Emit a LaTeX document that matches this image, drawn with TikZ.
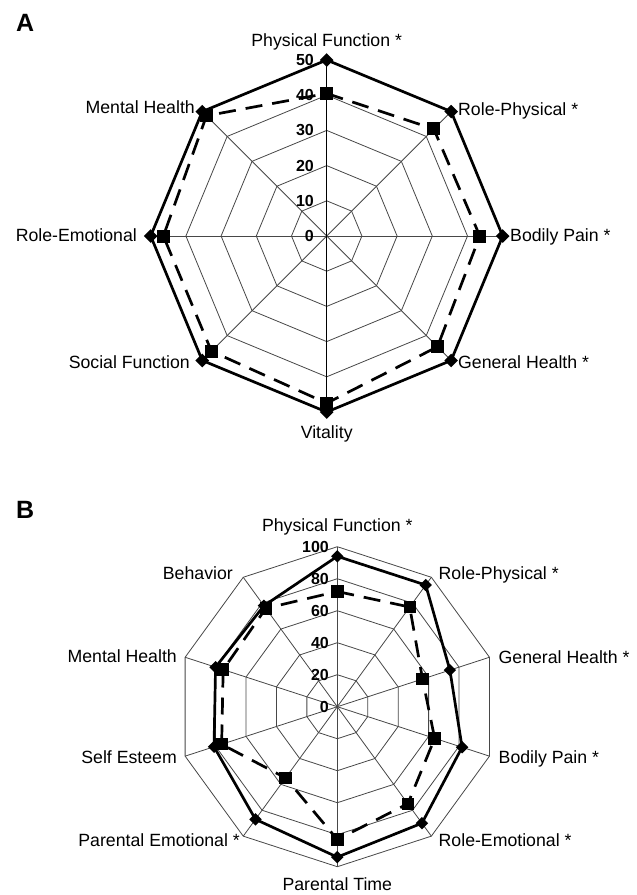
\documentclass[tikz,border=0pt]{standalone}
\usepackage{fontspec}
\setmainfont{Liberation Sans}
\begin{document}
\begin{tikzpicture}[x=1pt,y=-1pt,
  gridline/.style={draw=black!72, line width=0.8pt},
  spoke/.style={draw=black!72, line width=0.8pt},
  solidser/.style={draw=black, line width=2.7pt, line join=round},
  dashser/.style={draw=black, line width=2.7pt, dash pattern=on 17pt off 10pt},
  lab/.style={font=\fontsize{17.7}{20}\selectfont, inner sep=0pt},
  ticklab/.style={font=\bfseries\fontsize{16}{18}\selectfont, inner sep=0pt, anchor=east},
  panel/.style={font=\bfseries\fontsize{25}{28}\selectfont, inner sep=0pt, anchor=base west}]
\useasboundingbox (0,0) rectangle (637,895);
\def\cxA{326.7}\def\cyA{236}\def\sA{3.52}
\def\cxB{337.3}\def\cyB{706.7}\def\sB{1.6}
% ---------------- Panel A ----------------
\node[panel] (pA) at (16,31.7) {A};
\coordinate (cA) at (\cxA,\cyA);
\foreach \r in {10,20,30,40,50}{
  \draw[gridline] ({\cxA},{\cyA-\sA*\r}) \foreach \k in {1,...,7}{ -- ({\cxA+\sA*\r*sin(45*\k)},{\cyA-\sA*\r*cos(45*\k)}) } -- cycle;
}
\foreach \k in {0,...,7}{
  \coordinate (Aax\k) at ({\cxA+\sA*50*sin(45*\k)},{\cyA-\sA*50*cos(45*\k)});
}
\foreach \k in {1,2,3,5,6,7}{ \draw[spoke] (cA) -- (Aax\k); }
\draw[draw=black, line width=0.9pt] (Aax0) -- (Aax4);
\foreach \v [count=\k from 0] in {50,50,50,50,50,50,50,50}{
  \coordinate (As\k) at ({\cxA+\sA*\v*sin(45*\k)},{\cyA-\sA*\v*cos(45*\k)});
}
\foreach \v [count=\k from 0] in {40.5,43,43.5,44.5,47.5,46.3,46.4,48.3}{
  \coordinate (Ad\k) at ({\cxA+\sA*\v*sin(45*\k)},{\cyA-\sA*\v*cos(45*\k)});
}
\draw[solidser] (As0) -- (As1) -- (As2) -- (As3) -- (As4) -- (As5) -- (As6) -- (As7) -- cycle;
\draw[dashser] (Ad0) -- (Ad1) -- (Ad2) -- (Ad3) -- (Ad4) -- (Ad5) -- (Ad6) -- (Ad7) -- cycle;
\foreach \k in {0,...,7}{
  \fill[shift={(As\k)}] (0,-6.8) -- (6.8,0) -- (0,6.8) -- (-6.8,0) -- cycle;
}
\foreach \k in {0,...,7}{
  \fill[shift={(Ad\k)}] (-6.5,-6.5) rectangle (6.5,6.5);
}
\foreach \t in {0,10,20,30,40,50}{
  \node[ticklab] (At\t) at (314,{\cyA-\sA*\t}) {\t};
}
\node[lab, anchor=base] (A0) at (326.7,46) {Physical Function *};
\node[lab, anchor=base west] (A1) at (458,115) {Role-Physical *};
\node[lab, anchor=base west] (A2) at (510,241.5) {Bodily Pain *};
\node[lab, anchor=base west] (A3) at (458,368) {General Health *};
\node[lab, anchor=base] (A4) at (326.7,438) {Vitality};
\node[lab, anchor=base east] (A5) at (190,368) {Social Function};
\node[lab, anchor=base east] (A6) at (137,241.5) {Role-Emotional};
\node[lab, anchor=base east] (A7) at (195,113.5) {Mental Health};
% ---------------- Panel B ----------------
\node[panel] (pB) at (16,518) {B};
\coordinate (cB) at (\cxB,\cyB);
\foreach \r in {20,40,60,80,100}{
  \draw[gridline] ({\cxB},{\cyB-\sB*\r}) \foreach \k in {1,...,9}{ -- ({\cxB+\sB*\r*sin(36*\k)},{\cyB-\sB*\r*cos(36*\k)}) } -- cycle;
}
\foreach \k in {0,...,9}{
  \coordinate (Bax\k) at ({\cxB+\sB*100*sin(36*\k)},{\cyB-\sB*100*cos(36*\k)});
  \draw[spoke] (cB) -- (Bax\k);
}
\foreach \v [count=\k from 0] in {94,94,74,82,90,94,87,81,80,78}{
  \coordinate (Bs\k) at ({\cxB+\sB*\v*sin(36*\k)},{\cyB-\sB*\v*cos(36*\k)});
}
\foreach \v [count=\k from 0] in {72,77,56,64,75,83,55,76,75,76}{
  \coordinate (Bd\k) at ({\cxB+\sB*\v*sin(36*\k)},{\cyB-\sB*\v*cos(36*\k)});
}
\draw[solidser] (Bs0) -- (Bs1) -- (Bs2) -- (Bs3) -- (Bs4) -- (Bs5) -- (Bs6) -- (Bs7) -- (Bs8) -- (Bs9) -- cycle;
\draw[dashser] (Bd0) -- (Bd1) -- (Bd2) -- (Bd3) -- (Bd4) -- (Bd5) -- (Bd6) -- (Bd7) -- (Bd8) -- (Bd9) -- cycle;
\foreach \k in {0,...,9}{
  \fill[shift={(Bs\k)}] (0,-6.2) -- (6.2,0) -- (0,6.2) -- (-6.2,0) -- cycle;
}
\foreach \k in {0,...,9}{
  \fill[shift={(Bd\k)}] (-6.2,-6.2) rectangle (6.2,6.2);
}
\foreach \t in {0,20,40,60,80,100}{
  \node[ticklab] (Bt\t) at (329,{\cyB-\sB*\t}) {\t};
}
\node[lab, anchor=base] (B0) at (337.3,531) {Physical Function *};
\node[lab, anchor=base west] (B1) at (438.5,579.5) {Role-Physical *};
\node[lab, anchor=base west] (B2) at (498.5,663) {General Health *};
\node[lab, anchor=base west] (B3) at (498.5,763.5) {Bodily Pain *};
\node[lab, anchor=base west] (B4) at (438.5,846) {Role-Emotional *};
\node[lab, anchor=base] (B5) at (337.3,890) {Parental Time};
\node[lab, anchor=base east] (B6) at (240,846) {Parental Emotional *};
\node[lab, anchor=base east] (B7) at (177,763.5) {Self Esteem};
\node[lab, anchor=base east] (B8) at (177,662) {Mental Health};
\node[lab, anchor=base east] (B9) at (233,579) {Behavior};
\end{tikzpicture}
\end{document}
